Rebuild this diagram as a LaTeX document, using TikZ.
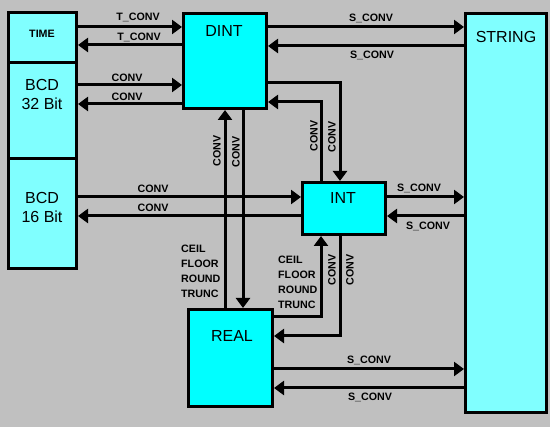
\documentclass[tikz,border=0pt]{standalone}
\usepackage{fontspec}
\setmainfont{Liberation Sans}
\usetikzlibrary{arrows.meta}

\definecolor{panel}{HTML}{C0C0C0}
\definecolor{lightbox}{HTML}{80FFFF}
\definecolor{typebox}{HTML}{00FFFF}

\tikzstyle{box}=[draw=black,line width=3pt,rectangle,inner sep=0pt]
\tikzstyle{type}=[box,fill=typebox]
\tikzstyle{side}=[box,fill=lightbox]
\tikzstyle{title}=[font=\fontsize{16}{19}\selectfont,align=center,inner sep=0pt]
\tikzstyle{small title}=[font=\fontsize{10.7}{12}\selectfont\bfseries,inner sep=0pt]
\tikzstyle{conv}=[draw,line width=3pt,-{Triangle[length=10pt,width=14pt]}]
\tikzstyle{tag}=[font=\fontsize{10.7}{12}\selectfont\bfseries,inner sep=0pt]
\tikzstyle{fn list}=[tag,align=left,anchor=north west,font=\fontsize{10.7}{14.8}\selectfont\bfseries]

\begin{document}
\begin{tikzpicture}[x=1pt,y=-1pt]
	\fill[panel] (0,0) rectangle (550,427);
	\useasboundingbox (0,0) rectangle (550,427);
	% the boxes
	\node[side,minimum width=68pt,minimum height=50.5pt] (time) at (42.5,37.75) {};
	\node[side,minimum width=68pt,minimum height=95.5pt] (bcd32) at (42.5,110.75) {};
	\node[side,minimum width=68pt,minimum height=110pt] (bcd16) at (42.5,213.5) {};
	\node[type,minimum width=83pt,minimum height=95pt] (dint) at (225,61) {};
	\node[type,minimum width=83pt,minimum height=52pt] (int) at (344,208.5) {};
	\node[type,minimum width=84pt,minimum height=97pt] (real) at (230.5,358) {};
	\node[side,minimum width=81pt,minimum height=399pt] (string) at (506,213) {};
		% names in the boxes
		\node[small title] (timename) at (42,34) {TIME};
		\node[title] (bcd32name) at (42,94) {BCD\\32 Bit};
		\node[title] (bcd16name) at (42,207) {BCD\\16 Bit};
		\node[title] (dintname) at (224,31) {DINT};
		\node[title] (intname) at (343,198) {INT};
		\node[title] (realname) at (232,336) {REAL};
		\node[title] (stringname) at (506,37) {STRING};
	% left to right
	\foreach \source/\dest/\y in {time/dint/27, bcd32/dint/85, dint/string/27, bcd16/int/197, int/string/197, real/string/369}
		\path[conv] (\source.east |- 0,\y) -- (\dest.west |- 0,\y);
	% right to left
	\foreach \source/\dest/\y in {dint/time/45, dint/bcd32/104, string/dint/46, int/bcd16/216, string/int/216, string/real/388}
		\path[conv] (\source.west |- 0,\y) -- (\dest.east |- 0,\y);
	% up and down
	\path[conv] (real.north -| 225,0) -- (dint.south -| 225,0);
	\path[conv] (dint.south -| 243,0) -- (real.north -| 243,0);
	\path[conv] (dint.east |- 0,83) -| (int.north -| 340,0);
	\path[conv] (int.north -| 321,0) |- (dint.east |- 0,102);
	\path[conv] (real.east |- 0,317) -| (int.south -| 321,0);
	\path[conv] (int.south -| 340,0) |- (real.east |- 0,336);
	% labels
	\node[tag] (t1) at (138,17) {T\_CONV};
	\node[tag] (t2) at (139,37) {T\_CONV};
	\node[tag] (c1) at (127,78) {CONV};
	\node[tag] (c2) at (127,97) {CONV};
	\node[tag] (c3) at (153,189) {CONV};
	\node[tag] (c4) at (153,208) {CONV};
	\node[tag] (s1) at (371,18) {S\_CONV};
	\node[tag] (s2) at (372,55) {S\_CONV};
	\node[tag] (s3) at (419,188) {S\_CONV};
	\node[tag] (s4) at (428,226) {S\_CONV};
	\node[tag] (s5) at (369,360) {S\_CONV};
	\node[tag] (s6) at (370,397) {S\_CONV};
	\node[tag,rotate=90] (v1) at (217,151) {CONV};
	\node[tag,rotate=90] (v2) at (236,152) {CONV};
	\node[tag,rotate=90] (v3) at (314,136) {CONV};
	\node[tag,rotate=90] (v4) at (332,137) {CONV};
	\node[tag,rotate=90] (v5) at (332,270) {CONV};
	\node[tag,rotate=90] (v6) at (350,270) {CONV};
	\node[fn list] (fn1) at (181,245) {CEIL\\FLOOR\\ROUND\\TRUNC};
	\node[fn list] (fn2) at (278,256) {CEIL\\FLOOR\\ROUND\\TRUNC};
\end{tikzpicture}
\end{document}
